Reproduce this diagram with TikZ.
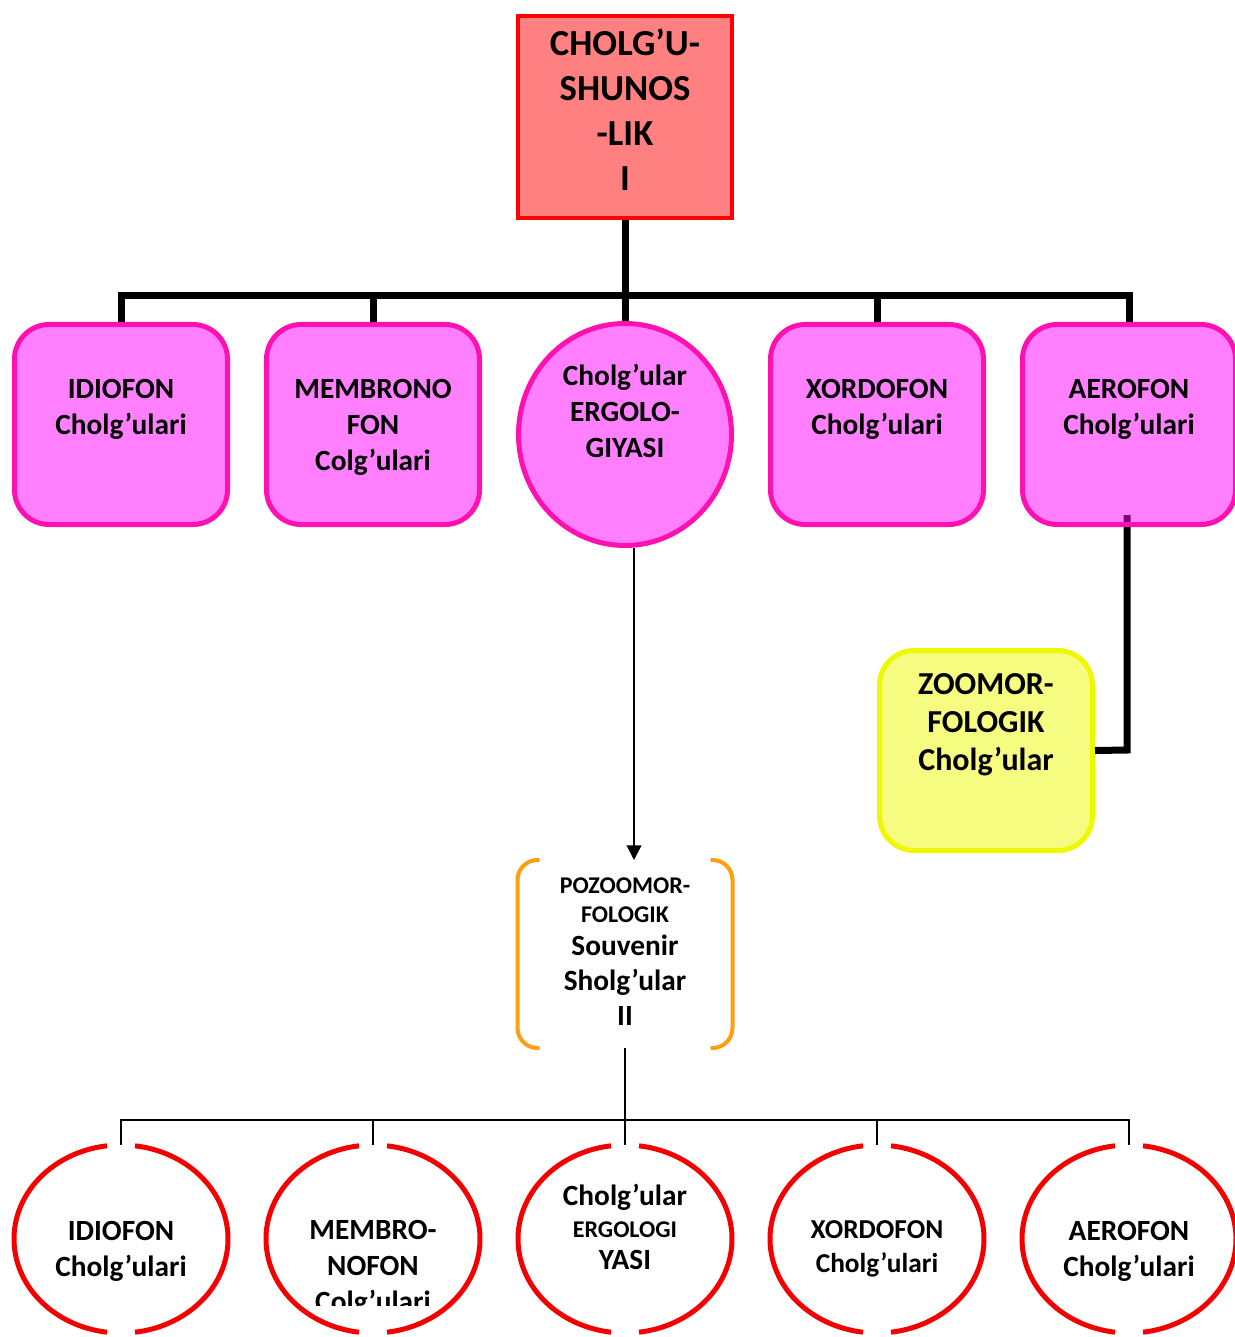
\documentclass[tikz,border=0pt]{standalone}
\usepackage{fontspec}
\setmainfont{Carlito}
\usetikzlibrary{shapes.geometric,arrows.meta,calc}
\definecolor{topfill}{HTML}{FF8080}
\definecolor{topline}{HTML}{FF0000}
\definecolor{pinkline}{HTML}{FF10B0}
\definecolor{magfill}{RGB}{255,0,255}
\definecolor{yelfill}{HTML}{F6FC80}
\definecolor{yelline}{HTML}{EEF800}
\definecolor{orangeline}{HTML}{FF9E10}
\definecolor{redline}{HTML}{F50000}
\newcommand\smallfontsel{\fontsize{18}{21}\selectfont}
\begin{document}
\begin{tikzpicture}[x=0.75pt,y=-0.75pt,
  txt/.style={align=center, inner sep=0pt, font=\bfseries\fontsize{22}{27}\selectfont},
  toptxt/.style={align=center, inner sep=0pt, font=\bfseries\fontsize{27.5}{33.75}\selectfont},
  yeltxt/.style={align=center, inner sep=0pt, font=\bfseries\fontsize{24}{28.5}\selectfont},
  topbox/.style={draw=topline, line width=3pt, fill=topfill, minimum width=160.5pt, minimum height=151.5pt, inner sep=0pt},
  pinkbox/.style={draw=pinkline, line width=3.75pt, fill=magfill, fill opacity=0.5, rounded corners=26pt, minimum width=159.75pt, minimum height=150pt, inner sep=0pt},
  pinkcirc/.style={ellipse, draw=pinkline, line width=3.75pt, fill=magfill, fill opacity=0.5, minimum width=159.75pt, minimum height=166.5pt, inner sep=0pt},
  yelbox/.style={draw=yelline, line width=3.75pt, fill=yelfill, rounded corners=26pt, minimum width=159.75pt, minimum height=150pt, inner sep=0pt},
  bracketbox/.style={minimum width=161.25pt, minimum height=141pt, inner sep=0pt, outer sep=0pt},
  ovalslot/.style={ellipse, minimum width=160.5pt, minimum height=141pt, inner sep=0pt, outer sep=0pt},
  thickline/.style={line width=5.25pt},
  thinline/.style={line width=1.5pt},
  bracketline/.style={draw=orangeline, line width=3pt, rounded corners=15pt},
  ovalline/.style={draw=redline, line width=3.75pt}
]
\useasboundingbox (0,0) rectangle (1234,1337);

% top box
\node[topbox] (top) at (625,117) {};
\node[toptxt] (toptext) at (625,110) {CHOLG’U-\\SHUNOS\\-LIK\\I};

% yellow box
\node[yelbox] (yb) at (986,750.5) {};
\node[yeltxt] (ybtext) at (986,725) {ZOOMOR-\\FOLOGIK\\Cholg’ular};

% connector from AEROFON to ZOOMORFOLOGIK (partly under the box fill)
\coordinate (aerostart) at (1127,515);
\draw[thickline] (aerostart) -- (1127,750) -- (yb.east);

% second-level pink boxes
\node[pinkbox] (p1) at (121,424.5) {};
\node[pinkbox] (p2) at (373,424.5) {};
\node[pinkcirc] (p3) at (625,434.5) {};
\node[pinkbox] (p4) at (877,424.5) {};
\node[pinkbox] (p5) at (1129,424.5) {};

\node[txt] (p1text) at (121,409) {IDIOFON\\Cholg’ulari};
\node[txt] (p2text) at (373,427) {MEMBRONO\\FON\\Colg’ulari};
\node[txt] (p3text) at (625,411) {Cholg’ular\\ERGOLO-\\GIYASI};
\node[txt] (p4text) at (877,409) {XORDOFON\\Cholg’ulari};
\node[txt] (p5text) at (1129,409) {AEROFON\\Cholg’ulari};

% top connectors
\coordinate (hub) at (625,296);
\draw[thickline] (top.south) -- (hub);
\draw[thickline] (p1.north) -- (p1.north |- hub) -- (p5.north |- hub) -- (p5.north);
\draw[thickline] (p2.north) -- (p2.north |- hub);
\draw[thickline] (p3.north) -- (p3.north |- hub);
\draw[thickline] (p4.north) -- (p4.north |- hub);

% bracket node
\node[bracketbox] (brk) at (625,954) {};
\draw[bracketline] ($(brk.north west)+(22,0)$) -- (brk.north west) -- (brk.south west) -- ($(brk.south west)+(22,0)$);
\draw[bracketline] ($(brk.north east)+(-22,0)$) -- (brk.north east) -- (brk.south east) -- ($(brk.south east)+(-22,0)$);
\node[txt, font=\bfseries\fontsize{22}{26.25}\selectfont] (brktext) at (625,952)
  {{\smallfontsel POZOOMOR-}\\[-4.5pt]{\smallfontsel FOLOGIK}\\[-1.5pt]Souvenir\\Sholg’ular\\II};

% arrow
\draw[thinline, -{Triangle[length=11pt,width=11pt]}] ($(p3.south)+(9,0)$) -- ($(brk.north)+(9,0)$);

% bottom ovals
\foreach \n/\x in {1/121,2/373,3/625,4/877,5/1129}{
  \node[ovalslot] (e\n) at (\x,1239) {};
  \draw[ovalline] (e\n.center) ++(82.5:80.25pt and 70.5pt) arc[start angle=82.5, end angle=-82.5, x radius=80.25pt, y radius=70.5pt];
  \draw[ovalline] (e\n.center) ++(97.5:80.25pt and 70.5pt) arc[start angle=97.5, end angle=262.5, x radius=80.25pt, y radius=70.5pt];
}

% bottom connectors
\coordinate (hubb) at (625,1120);
\draw[thinline] (brk.south) -- (hubb);
\draw[thinline] (e1.north) -- (e1.north |- hubb) -- (e5.north |- hubb) -- (e5.north);
\draw[thinline] (e2.north) -- (e2.north |- hubb);
\draw[thinline] (e3.north) -- (e3.north |- hubb);
\draw[thinline] (e4.north) -- (e4.north |- hubb);

% bottom texts
\node[txt] (e1text) at (121,1251) {IDIOFON\\Cholg’ulari};
\begin{scope}
  \clip (264,1100) rectangle (482,1305);
  \node[txt] (e2text) at (373,1268) {MEMBRO-\\NOFON\\Colg’ulari};
\end{scope}
\node[txt, font=\bfseries\fontsize{22}{26.25}\selectfont] (e3text) at (625,1227) {Cholg’ular\\[-2pt]{\smallfontsel ERGOLOGI}\\[-2pt]YASI};
\node[txt, font=\bfseries\fontsize{20.5}{26}\selectfont] (e4text) at (877,1249) {XORDOFON\\Cholg’ulari};
\node[txt] (e5text) at (1129,1251) {AEROFON\\Cholg’ulari};
\end{tikzpicture}
\end{document}
